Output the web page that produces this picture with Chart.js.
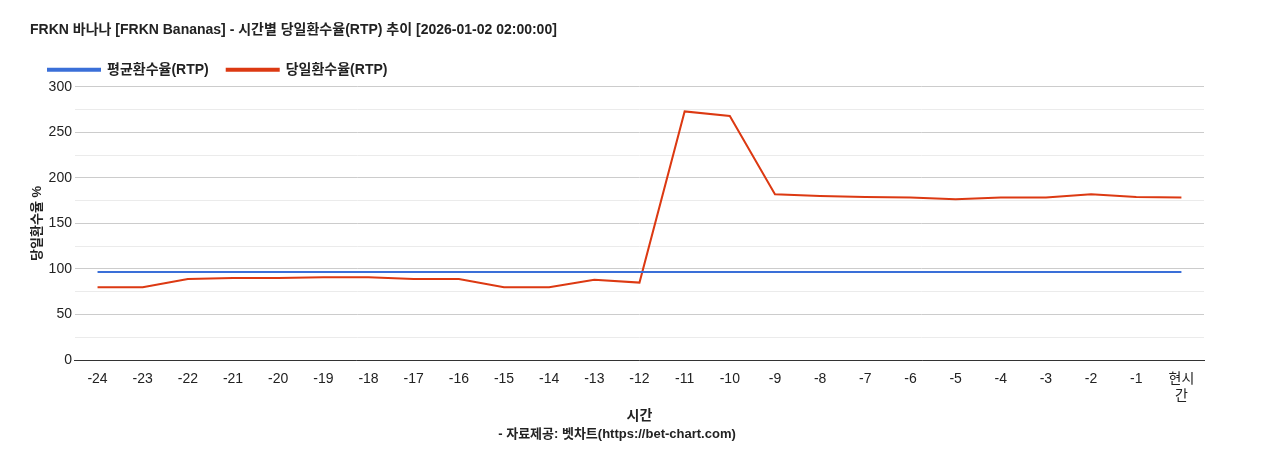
<!DOCTYPE html>
<html><head><meta charset="utf-8">
<script src="https://cdn.jsdelivr.net/npm/chart.js@4"></script>
<style>body{margin:0;background:#fff}#w{width:1268px;height:450px}</style>
</head><body><div id="w"><canvas id="c"></canvas></div>
<script>
const categories=["-24","-23","-22","-21","-20","-19","-18","-17","-16","-15","-14","-13","-12","-11","-10","-9","-8","-7","-6","-5","-4","-3","-2","-1",["현시","간"]];
const avgRtp=Array(25).fill(96.5);
const dayRtp=[80,80,89,90,90,91,91,89,89,80,80,88,85,273,268,182,180,179,178.5,176.5,178.5,178.5,182,179,178.5];
const F="'Liberation Sans','Noto Sans CJK KR',sans-serif";
Chart.defaults.font.family=F;Chart.defaults.color='#222';
new Chart(document.getElementById('c'),{type:'line',
data:{labels:categories,datasets:[
{label:'평균환수율(RTP)',data:avgRtp,borderColor:'#3a6fd8',backgroundColor:'#3a6fd8',borderWidth:2,pointRadius:0,tension:0},
{label:'당일환수율(RTP)',data:dayRtp,borderColor:'#dc3912',backgroundColor:'#dc3912',borderWidth:2,pointRadius:0,tension:0}]},
options:{responsive:true,maintainAspectRatio:false,animation:false,
layout:{padding:{left:30,right:64,top:18,bottom:8}},
plugins:{title:{display:true,text:'FRKN 바나나 [FRKN Bananas] - 시간별 당일환수율(RTP) 추이 [2026-01-02 02:00:00]',align:'start',font:{size:14,weight:'bold'},padding:{top:4,bottom:6}},
legend:{align:'start',labels:{boxWidth:52,boxHeight:2,font:{size:14,weight:'bold'},padding:18}},
subtitle:{display:true,position:'bottom',text:'- 자료제공: 벳차트(https://bet-chart.com)',font:{size:13,weight:'bold'},padding:{top:0,bottom:0}},
tooltip:{enabled:false}},
scales:{x:{offset:true,grid:{display:false},border:{color:'#333'},ticks:{font:{size:14},maxRotation:0,autoSkip:false},
title:{display:true,text:'시간',font:{size:14,weight:'bold'},padding:{top:0,bottom:2}}},
y:{min:0,max:300,border:{display:false},ticks:{stepSize:25,font:{size:14},callback:v=>v%50===0?v:''},
grid:{color:c=>c.tick.value%50===0?'#ccc':'#ebebeb',drawTicks:false},
title:{display:true,text:'당일환수율 %',font:{size:13,weight:'bold'},padding:0}}}}});
</script></body></html>
